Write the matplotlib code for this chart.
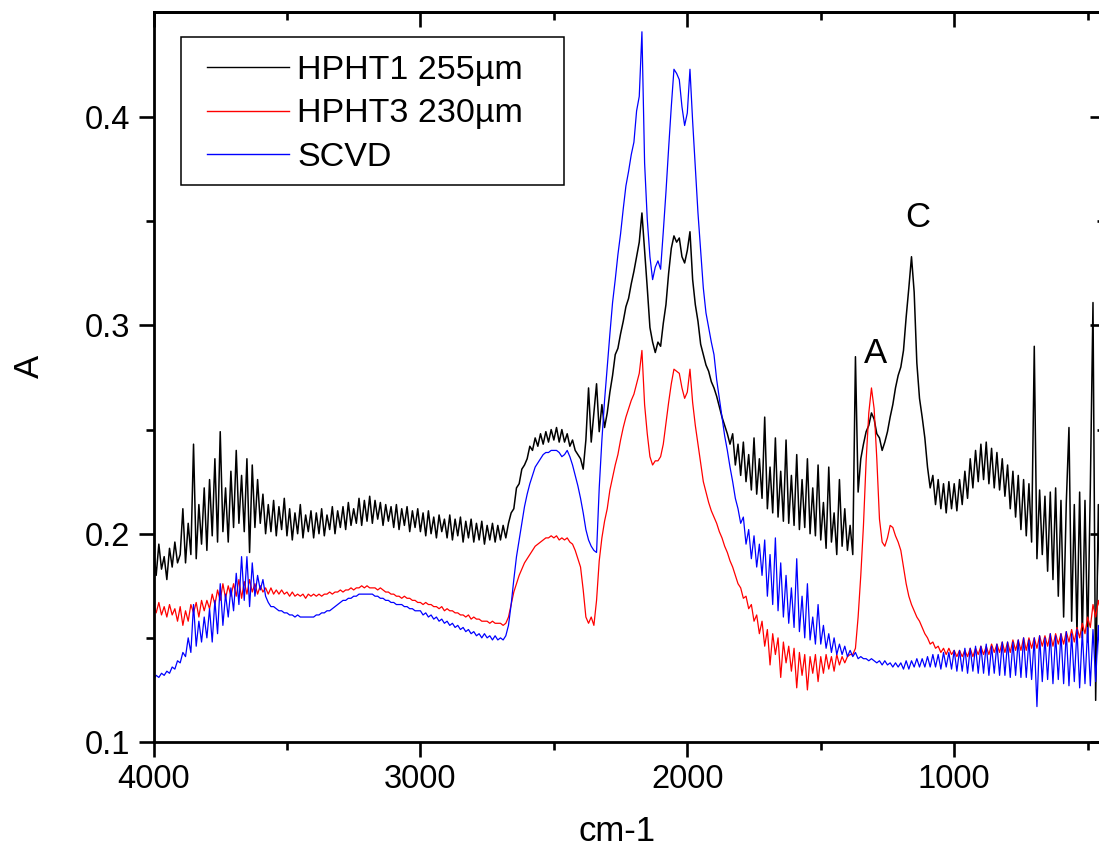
import numpy as np
import matplotlib
matplotlib.use("Agg")
import matplotlib.pyplot as plt
from matplotlib.patches import Rectangle

plt.rcParams['font.family'] = ['Liberation Sans', 'DejaVu Sans']

# wavenumber grid (cm-1), 4000 down to 410 in steps of 10
wavenumber = np.arange(4000, 400, -10)

series_labels = ["HPHT1 255µm", "HPHT3 230µm", "SCVD"]
series_colors = ["#000000", "#ff0000", "#0000ff"]
series_widths = [1.1, 0.9, 0.9]

hpht1 = [
    0.192, 0.180, 0.195, 0.183, 0.189, 0.178, 0.193, 0.184, 0.196, 0.186,  # 4000
    0.190, 0.212, 0.186, 0.205, 0.190, 0.243, 0.188, 0.214, 0.195, 0.222,  # 3900
    0.192, 0.226, 0.199, 0.236, 0.196, 0.249, 0.201, 0.222, 0.196, 0.230,  # 3800
    0.203, 0.240, 0.205, 0.228, 0.201, 0.236, 0.191, 0.233, 0.203, 0.226,  # 3700
    0.205, 0.219, 0.200, 0.214, 0.201, 0.216, 0.199, 0.213, 0.202, 0.217,  # 3600
    0.199, 0.212, 0.197, 0.210, 0.200, 0.214, 0.198, 0.209, 0.201, 0.211,  # 3500
    0.198, 0.210, 0.200, 0.212, 0.199, 0.209, 0.202, 0.213, 0.200, 0.211,  # 3400
    0.203, 0.213, 0.202, 0.215, 0.204, 0.212, 0.205, 0.217, 0.204, 0.216,  # 3300
    0.206, 0.218, 0.205, 0.216, 0.207, 0.215, 0.204, 0.214, 0.206, 0.213,  # 3200
    0.203, 0.214, 0.202, 0.212, 0.204, 0.213, 0.201, 0.211, 0.203, 0.212,  # 3100
    0.201, 0.210, 0.199, 0.211, 0.200, 0.208, 0.198, 0.209, 0.201, 0.207,  # 3000
    0.198, 0.209, 0.197, 0.207, 0.199, 0.208, 0.196, 0.206, 0.198, 0.207,  # 2900
    0.196, 0.205, 0.197, 0.206, 0.195, 0.204, 0.197, 0.205, 0.196, 0.204,  # 2800
    0.197, 0.204, 0.198, 0.205, 0.210, 0.212, 0.222, 0.224, 0.231, 0.233,  # 2700
    0.236, 0.242, 0.240, 0.246, 0.242, 0.248, 0.243, 0.249, 0.244, 0.250,  # 2600
    0.245, 0.251, 0.244, 0.250, 0.244, 0.248, 0.242, 0.245, 0.240, 0.238,  # 2500
    0.236, 0.231, 0.245, 0.270, 0.244, 0.258, 0.272, 0.249, 0.262, 0.251,  # 2400
    0.258, 0.268, 0.276, 0.286, 0.289, 0.296, 0.302, 0.309, 0.313, 0.320,  # 2300
    0.326, 0.333, 0.340, 0.354, 0.336, 0.318, 0.299, 0.292, 0.287, 0.292,  # 2200
    0.290, 0.301, 0.310, 0.325, 0.337, 0.343, 0.340, 0.342, 0.333, 0.330,  # 2100
    0.336, 0.345, 0.322, 0.310, 0.302, 0.291, 0.286, 0.281, 0.278, 0.273,  # 2000
    0.270, 0.266, 0.261, 0.256, 0.252, 0.248, 0.243, 0.248, 0.233, 0.243,  # 1900
    0.228, 0.244, 0.225, 0.238, 0.221, 0.246, 0.219, 0.236, 0.217, 0.256,  # 1800
    0.212, 0.232, 0.210, 0.246, 0.208, 0.230, 0.206, 0.245, 0.205, 0.228,  # 1700
    0.204, 0.238, 0.202, 0.226, 0.203, 0.236, 0.200, 0.222, 0.199, 0.233,  # 1600
    0.197, 0.215, 0.193, 0.232, 0.196, 0.210, 0.190, 0.226, 0.194, 0.212,  # 1500
    0.192, 0.204, 0.190, 0.285, 0.220, 0.236, 0.243, 0.249, 0.252, 0.258,  # 1400
    0.255, 0.248, 0.246, 0.240, 0.244, 0.249, 0.256, 0.262, 0.270, 0.276,  # 1300
    0.280, 0.288, 0.304, 0.318, 0.333, 0.316, 0.282, 0.265, 0.256, 0.246,  # 1200
    0.232, 0.222, 0.228, 0.214, 0.226, 0.212, 0.224, 0.210, 0.225, 0.212,  # 1100
    0.224, 0.211, 0.226, 0.214, 0.230, 0.217, 0.236, 0.222, 0.240, 0.225,  # 1000
    0.243, 0.226, 0.244, 0.224, 0.241, 0.222, 0.239, 0.221, 0.236, 0.218,  # 900
    0.233, 0.212, 0.230, 0.208, 0.228, 0.202, 0.226, 0.199, 0.224, 0.196,  # 800
    0.290, 0.188, 0.221, 0.190, 0.218, 0.182, 0.220, 0.178, 0.222, 0.170,  # 700
    0.216, 0.160, 0.215, 0.251, 0.158, 0.214, 0.152, 0.220, 0.150, 0.216,  # 600
    0.148, 0.222, 0.311, 0.120, 0.214, 0.150, 0.210, 0.140, 0.205, 0.150,  # 500
]

hpht3 = [
    0.166, 0.162, 0.167, 0.161, 0.165, 0.160, 0.166, 0.161, 0.164, 0.158,  # 4000
    0.165, 0.156, 0.163, 0.158, 0.166, 0.162, 0.167, 0.160, 0.168, 0.163,  # 3900
    0.168, 0.164, 0.171, 0.166, 0.173, 0.168, 0.176, 0.169, 0.175, 0.170,  # 3800
    0.176, 0.170, 0.178, 0.169, 0.177, 0.171, 0.178, 0.172, 0.176, 0.171,  # 3700
    0.175, 0.172, 0.174, 0.171, 0.174, 0.171, 0.173, 0.171, 0.173, 0.171,  # 3600
    0.172, 0.170, 0.172, 0.170, 0.171, 0.170, 0.171, 0.169, 0.171, 0.170,  # 3500
    0.171, 0.170, 0.171, 0.170, 0.171, 0.171, 0.172, 0.171, 0.172, 0.172,  # 3400
    0.173, 0.172, 0.173, 0.173, 0.174, 0.173, 0.174, 0.174, 0.175, 0.174,  # 3300
    0.175, 0.174, 0.174, 0.174, 0.173, 0.174, 0.173, 0.172, 0.172, 0.171,  # 3200
    0.171, 0.170, 0.170, 0.169, 0.170, 0.169, 0.169, 0.168, 0.168, 0.167,  # 3100
    0.167, 0.166, 0.167, 0.166, 0.166, 0.165, 0.165, 0.164, 0.165, 0.163,  # 3000
    0.164, 0.163, 0.163, 0.162, 0.162, 0.161, 0.161, 0.160, 0.161, 0.159,  # 2900
    0.160, 0.159, 0.159, 0.158, 0.158, 0.158, 0.157, 0.158, 0.157, 0.157,  # 2800
    0.157, 0.156, 0.157, 0.160, 0.166, 0.172, 0.176, 0.180, 0.183, 0.186,  # 2700
    0.188, 0.190, 0.192, 0.194, 0.195, 0.196, 0.197, 0.198, 0.198, 0.199,  # 2600
    0.198, 0.199, 0.197, 0.198, 0.197, 0.198, 0.196, 0.195, 0.192, 0.188,  # 2500
    0.184, 0.173, 0.160, 0.157, 0.160, 0.156, 0.168, 0.187, 0.198, 0.206,  # 2400
    0.212, 0.221, 0.227, 0.233, 0.238, 0.245, 0.251, 0.256, 0.260, 0.264,  # 2300
    0.267, 0.272, 0.277, 0.288, 0.262, 0.248, 0.237, 0.233, 0.235, 0.235,  # 2200
    0.237, 0.243, 0.253, 0.263, 0.272, 0.279, 0.278, 0.277, 0.270, 0.265,  # 2100
    0.268, 0.279, 0.263, 0.252, 0.243, 0.234, 0.225, 0.220, 0.215, 0.211,  # 2000
    0.208, 0.205, 0.201, 0.198, 0.194, 0.191, 0.187, 0.184, 0.180, 0.176,  # 1900
    0.174, 0.169, 0.170, 0.164, 0.166, 0.158, 0.161, 0.152, 0.158, 0.146,  # 1800
    0.154, 0.137, 0.152, 0.142, 0.150, 0.131, 0.148, 0.138, 0.146, 0.134,  # 1700
    0.145, 0.126, 0.143, 0.132, 0.142, 0.125, 0.141, 0.133, 0.142, 0.129,  # 1600
    0.141, 0.133, 0.142, 0.135, 0.141, 0.134, 0.142, 0.137, 0.141, 0.138,  # 1500
    0.141, 0.142, 0.142, 0.145, 0.160, 0.180, 0.204, 0.235, 0.258, 0.270,  # 1400
    0.260, 0.236, 0.207, 0.196, 0.194, 0.198, 0.204, 0.203, 0.199, 0.196,  # 1300
    0.192, 0.184, 0.176, 0.170, 0.166, 0.163, 0.160, 0.158, 0.155, 0.152,  # 1200
    0.150, 0.147, 0.148, 0.145, 0.146, 0.143, 0.145, 0.142, 0.145, 0.142,  # 1100
    0.144, 0.141, 0.144, 0.141, 0.144, 0.141, 0.145, 0.141, 0.145, 0.142,  # 1000
    0.146, 0.142, 0.146, 0.142, 0.147, 0.143, 0.147, 0.143, 0.148, 0.143,  # 900
    0.148, 0.143, 0.149, 0.144, 0.149, 0.144, 0.150, 0.144, 0.150, 0.145,  # 800
    0.150, 0.145, 0.151, 0.146, 0.151, 0.146, 0.152, 0.146, 0.152, 0.147,  # 700
    0.152, 0.147, 0.153, 0.148, 0.154, 0.148, 0.155, 0.150, 0.157, 0.152,  # 600
    0.160, 0.155, 0.166, 0.160, 0.168, 0.162, 0.170, 0.165, 0.168, 0.165,  # 500
]

scvd = [
    0.130, 0.132, 0.131, 0.133, 0.132, 0.134, 0.133, 0.136, 0.135, 0.139,  # 4000
    0.138, 0.143, 0.141, 0.150, 0.143, 0.166, 0.146, 0.158, 0.148, 0.160,  # 3900
    0.150, 0.164, 0.148, 0.168, 0.152, 0.176, 0.156, 0.171, 0.160, 0.174,  # 3800
    0.163, 0.181, 0.166, 0.189, 0.168, 0.189, 0.165, 0.186, 0.170, 0.180,  # 3700
    0.173, 0.178, 0.170, 0.167, 0.165, 0.165, 0.164, 0.163, 0.163, 0.162,  # 3600
    0.162, 0.161, 0.161, 0.160, 0.161, 0.160, 0.160, 0.160, 0.160, 0.160,  # 3500
    0.160, 0.161, 0.161, 0.162, 0.162, 0.163, 0.163, 0.164, 0.165, 0.166,  # 3400
    0.167, 0.168, 0.168, 0.169, 0.169, 0.170, 0.170, 0.171, 0.171, 0.171,  # 3300
    0.171, 0.171, 0.171, 0.170, 0.170, 0.169, 0.169, 0.168, 0.168, 0.167,  # 3200
    0.167, 0.166, 0.166, 0.166, 0.165, 0.165, 0.164, 0.164, 0.163, 0.163,  # 3100
    0.163, 0.161, 0.162, 0.160, 0.161, 0.159, 0.160, 0.158, 0.159, 0.157,  # 3000
    0.158, 0.156, 0.157, 0.155, 0.156, 0.154, 0.155, 0.153, 0.154, 0.152,  # 2900
    0.153, 0.151, 0.152, 0.150, 0.152, 0.150, 0.151, 0.149, 0.151, 0.149,  # 2800
    0.150, 0.149, 0.151, 0.156, 0.166, 0.178, 0.189, 0.197, 0.205, 0.213,  # 2700
    0.219, 0.224, 0.228, 0.232, 0.234, 0.236, 0.238, 0.239, 0.239, 0.240,  # 2600
    0.240, 0.240, 0.239, 0.237, 0.238, 0.240, 0.237, 0.233, 0.228, 0.223,  # 2500
    0.217, 0.210, 0.202, 0.197, 0.194, 0.192, 0.191, 0.222, 0.245, 0.264,  # 2400
    0.280, 0.296, 0.311, 0.322, 0.334, 0.344, 0.356, 0.367, 0.374, 0.382,  # 2300
    0.388, 0.403, 0.410, 0.441, 0.378, 0.351, 0.333, 0.322, 0.328, 0.331,  # 2200
    0.327, 0.345, 0.364, 0.385, 0.405, 0.423, 0.421, 0.418, 0.405, 0.396,  # 2100
    0.402, 0.423, 0.398, 0.376, 0.354, 0.336, 0.318, 0.306, 0.299, 0.292,  # 2000
    0.286, 0.274, 0.265, 0.256, 0.247, 0.240, 0.232, 0.225, 0.217, 0.212,  # 1900
    0.205, 0.208, 0.195, 0.202, 0.188, 0.199, 0.184, 0.195, 0.180, 0.197,  # 1800
    0.170, 0.190, 0.166, 0.198, 0.163, 0.186, 0.160, 0.180, 0.157, 0.174,  # 1700
    0.155, 0.188, 0.153, 0.170, 0.150, 0.176, 0.149, 0.160, 0.147, 0.166,  # 1600
    0.147, 0.156, 0.145, 0.152, 0.143, 0.150, 0.142, 0.147, 0.142, 0.146,  # 1500
    0.141, 0.144, 0.141, 0.143, 0.140, 0.141, 0.140, 0.140, 0.139, 0.140,  # 1400
    0.139, 0.138, 0.139, 0.137, 0.139, 0.137, 0.138, 0.136, 0.138, 0.136,  # 1300
    0.138, 0.135, 0.139, 0.135, 0.139, 0.136, 0.140, 0.136, 0.140, 0.136,  # 1200
    0.141, 0.136, 0.142, 0.136, 0.142, 0.135, 0.143, 0.136, 0.143, 0.135,  # 1100
    0.144, 0.134, 0.144, 0.134, 0.145, 0.133, 0.145, 0.134, 0.146, 0.133,  # 1000
    0.146, 0.133, 0.147, 0.132, 0.146, 0.133, 0.147, 0.132, 0.148, 0.132,  # 900
    0.148, 0.131, 0.148, 0.132, 0.149, 0.131, 0.150, 0.131, 0.149, 0.130,  # 800
    0.150, 0.117, 0.151, 0.129, 0.150, 0.130, 0.152, 0.128, 0.151, 0.130,  # 700
    0.152, 0.128, 0.153, 0.127, 0.152, 0.129, 0.154, 0.126, 0.153, 0.128,  # 600
    0.155, 0.127, 0.154, 0.129, 0.156, 0.126, 0.155, 0.130, 0.152, 0.128,  # 500
]

annotations = [("A", 1296, 0.2867), ("C", 1138, 0.352)]

x_major = [4000, 3000, 2000, 1000]
x_minor = [3500, 2500, 1500, 500]
y_major = [0.1, 0.2, 0.3, 0.4]
y_minor = [0.15, 0.25, 0.35]

W, H = 1099, 849
fig = plt.figure(figsize=(W / 100, H / 100), dpi=100)
ax = fig.add_axes([153.5 / W, 107 / H, 951.5 / W, 730 / H])

for vals, lab, col, lw in zip([hpht1, hpht3, scvd], series_labels, series_colors, series_widths):
    ax.plot(wavenumber, vals, color=col, lw=lw, label=lab)

ax.set_xlim(4000, 435)
ax.set_ylim(0.1, 0.4505)

ax.set_xticks(x_major)
ax.set_xticks(x_minor, minor=True)
ax.set_yticks(y_major)
ax.set_yticks(y_minor, minor=True)
ax.set_xticklabels([str(v) for v in x_major])
ax.set_yticklabels([f"{v:.1f}" for v in y_major])

for s in ax.spines.values():
    s.set_linewidth(2.0)

ax.tick_params(axis='both', which='major', direction='out', length=11, width=1.9,
               labelsize=23.5, top=False, right=False)
ax.tick_params(axis='both', which='minor', direction='out', length=6, width=1.9,
               top=False, right=False)
ax.tick_params(axis='x', which='major', pad=5)
ax.tick_params(axis='y', which='major', pad=6)

secx = ax.secondary_xaxis('top')
secx.set_xticks(x_major)
secx.set_xticks(x_minor, minor=True)
secx.tick_params(axis='x', which='major', direction='in', length=11, width=1.9, labeltop=False)
secx.tick_params(axis='x', which='minor', direction='in', length=6, width=1.9)
secx.spines['top'].set_linewidth(2.0)

secy = ax.secondary_yaxis('right')
secy.set_yticks(y_major)
secy.set_yticks(y_minor, minor=True)
secy.tick_params(axis='y', which='major', direction='in', length=11, width=1.9, labelright=False)
secy.tick_params(axis='y', which='minor', direction='in', length=6, width=1.9)
secy.spines['right'].set_linewidth(2.0)

ax.set_xlabel("cm-1", fontsize=25)
ax.set_ylabel("A", fontsize=25)
ax.xaxis.set_label_coords(0.487, -0.1)
ax.yaxis.set_label_coords(-0.113, 0.515)

for txt, xv, yv in annotations:
    ax.text(xv, yv, txt, fontsize=25, ha='center', va='center')

leg = ax.legend(loc='upper left', bbox_to_anchor=(0.0562, 0.9413), frameon=False,
                fontsize=24.5, handlelength=2.4, handletextpad=0.25, labelspacing=0.37,
                borderpad=0, borderaxespad=0)
for h in leg.get_lines():
    h.set_linewidth(1.0)
ax.add_patch(Rectangle((0.0289, 0.763), 0.4025, 0.2028, transform=ax.transAxes,
                       fill=False, edgecolor='black', lw=1.1, zorder=5))

fig.savefig("out.png", dpi=100)
